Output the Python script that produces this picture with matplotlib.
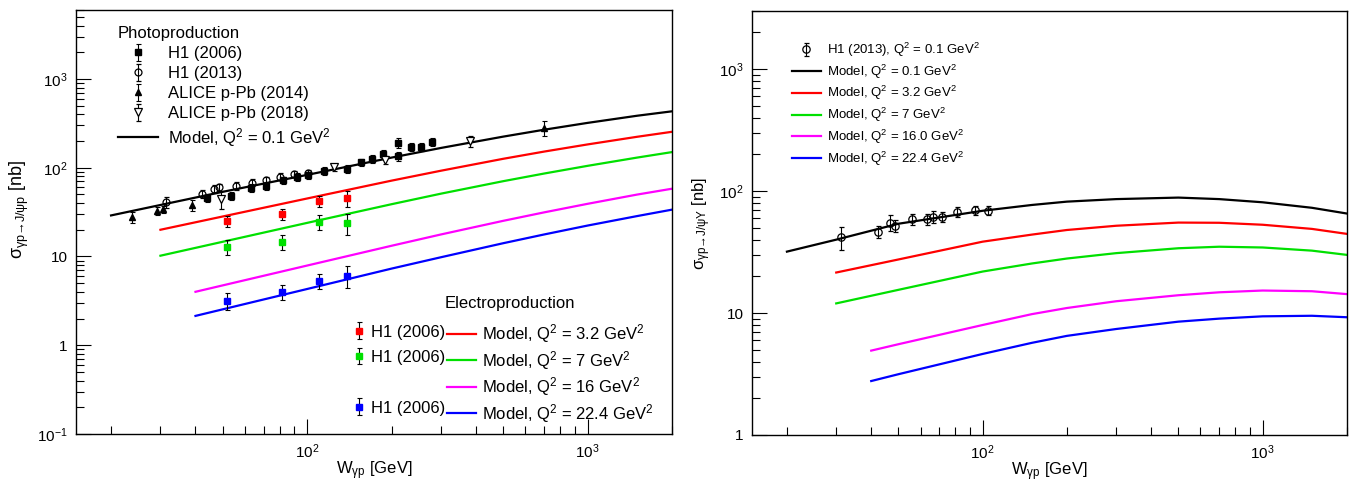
import matplotlib
matplotlib.use("Agg")
import matplotlib.pyplot as plt
from matplotlib.lines import Line2D
from matplotlib.ticker import FixedLocator, FixedFormatter, NullFormatter, LogLocator

plt.rcParams['font.family'] = ['Liberation Sans', 'DejaVu Sans']
plt.rcParams['mathtext.fontset'] = 'custom'
plt.rcParams['mathtext.rm'] = 'Liberation Sans'
plt.rcParams['mathtext.it'] = 'Liberation Sans:italic'
plt.rcParams['mathtext.bf'] = 'Liberation Sans:bold'

# -------------------------------
# Left panel: gamma p -> J/psi p
# -------------------------------
# photoproduction data
h1_2006_w = [43.8, 53.4, 62.9, 71.1, 81.8, 91.8, 101, 115, 138.6, 155.5, 170.3, 186.9, 210.5, 210.5, 233.9, 254.6, 277.8]
h1_2006_s = [45.8, 48.6, 59.8, 62.5, 72.4, 78.3, 82.5, 92.3, 97.9, 114.5, 127, 143.5, 133.8, 191, 170.6, 172, 196]
h1_2006_e = [5, 5, 6, 6, 7, 8, 8, 9, 10, 11, 13, 15, 16, 25, 17, 18, 20]

h1_2013_w = [31.3, 42.1, 46.6, 48.6, 55.6, 63.4, 71.5, 80.2, 89.9, 100.5]
h1_2013_s = [41.3, 50.8, 57.4, 60.4, 62.5, 68.1, 71.8, 79.6, 85.3, 86.9]
h1_2013_e = [6, 5, 6, 6, 6, 6, 6, 7, 7, 7]

alice14_w = [23.7, 29.2, 30.6, 39.0, 700]
alice14_s = [28, 32.7, 34.1, 37.9, 280]
alice14_e = [4, 3, 3, 5, 55]

alice18_w = [49.2, 125, 190, 380]
alice18_s = [44.6, 101, 123, 200]
alice18_e = [10, 10, 14, 30]

# electroproduction data, H1 (2006)
h1e_w = [52, 81.3, 110.2, 138.6]
h1e_s32 = [25.2, 30, 42, 45]
h1e_e32 = [3.5, 4, 6, 9]
h1e_s7 = [12.9, 14.5, 24.5, 23.9]
h1e_e7 = [2.6, 2.8, 4.5, 6.5]
h1e_s224 = [3.18, 4.02, 5.31, 6.09]
h1e_e224 = [0.7, 0.8, 1.0, 1.7]

# model curves
m01_w = [20, 50, 100, 200, 300, 500, 700, 1000, 1500, 2000]
m01_s = [29, 53.5, 83, 130, 167, 224, 268, 320, 385, 432]
m32_w = [30, 100, 200, 300, 500, 700, 1000, 1500, 2000]
m32_s = [20, 45, 71.5, 92.5, 126, 152, 183, 223, 254]
m7_w = [30, 100, 200, 300, 500, 700, 1000, 1500, 2000]
m7_s = [10.2, 23.9, 38.8, 51, 70.5, 86, 105, 130, 150]
m16_w = [40, 100, 200, 300, 500, 700, 1000, 1500, 2000]
m16_s = [4.0, 7.9, 13.2, 17.7, 25.2, 31.4, 39.2, 49.8, 58]
m224_w = [40, 100, 200, 300, 500, 700, 1000, 1500, 2000]
m224_s = [2.14, 4.3, 7.3, 9.8, 14.1, 17.7, 22.3, 28.5, 33.7]

# -------------------------------
# Right panel: gamma p -> J/psi Y
# -------------------------------
r_h1_w = [31.3, 42.2, 46.8, 48.7, 55.9, 63.4, 66.4, 71.7, 80.8, 93.8, 104.8]
r_h1_s = [41.8, 46.3, 55.2, 52.1, 58.8, 58.8, 61.8, 61.4, 67.5, 70.2, 69.2]
r_h1_e = [9, 5, 8, 6, 6, 6, 7, 6, 6, 6, 6]

r01_w = [20, 30, 50, 100, 150, 200, 300, 500, 700, 1000, 1500, 2000]
r01_s = [31.9, 40, 54, 69, 77, 82, 86, 88.5, 86, 81, 73, 65.5]
r32_w = [30, 50, 100, 150, 200, 300, 500, 700, 1000, 1500, 2000]
r32_s = [21.5, 27.5, 38.5, 44, 48, 52, 55.2, 55, 53, 49, 44.6]
r7_w = [30, 50, 100, 150, 200, 300, 500, 700, 1000, 1500, 2000]
r7_s = [12.0, 15.5, 21.9, 25.5, 28, 31, 34, 35, 34.5, 32.5, 30]
r16_w = [40, 50, 100, 150, 200, 300, 500, 700, 1000, 1500, 2000]
r16_s = [4.92, 5.55, 7.98, 9.8, 11, 12.5, 14, 14.8, 15.3, 15.1, 14.3]
r224_w = [40, 50, 100, 150, 200, 300, 500, 700, 1000, 1500, 2000]
r224_s = [2.77, 3.15, 4.62, 5.7, 6.5, 7.4, 8.5, 9.0, 9.4, 9.5, 9.24]

# tick labels
x_ticks = [100, 1000]
x_labels = ['10$^{2}$', '10$^{3}$']
yl_ticks = [0.1, 1, 10, 100, 1000]
yl_labels = ['10$^{-1}$', '1', '10', '10$^{2}$', '10$^{3}$']
yr_ticks = [1, 10, 100, 1000]
yr_labels = ['1', '10', '10$^{2}$', '10$^{3}$']

RED = '#ff0000'
GREEN = '#00e000'
MAGENTA = '#ff00ff'
BLUE = '#0000ff'

fig = plt.figure(figsize=(13.5, 4.83), dpi=100)
ax1 = fig.add_axes([0.0563, 0.1015, 0.4415, 0.878])
ax2 = fig.add_axes([0.557, 0.0994, 0.4407, 0.8778])

eb = dict(ecolor='black', elinewidth=0.8, capsize=1.8, capthick=0.8, linestyle='none')

# ---- left panel
l01, = ax1.plot(m01_w, m01_s, color='black', lw=1.6)
l32, = ax1.plot(m32_w, m32_s, color=RED, lw=1.6)
l7, = ax1.plot(m7_w, m7_s, color=GREEN, lw=1.6)
l16, = ax1.plot(m16_w, m16_s, color=MAGENTA, lw=1.6)
l224, = ax1.plot(m224_w, m224_s, color=BLUE, lw=1.6)

e106 = ax1.errorbar(h1_2006_w, h1_2006_s, yerr=h1_2006_e, marker='s', ms=4.3, color='black', **eb)
e113 = ax1.errorbar(h1_2013_w, h1_2013_s, yerr=h1_2013_e, marker='o', ms=5, mfc='none', mec='black', mew=0.9, **eb)
e14 = ax1.errorbar(alice14_w, alice14_s, yerr=alice14_e, marker='^', ms=5, color='black', **eb)
e18 = ax1.errorbar(alice18_w, alice18_s, yerr=alice18_e, marker='v', ms=6, mfc='white', mec='black', mew=0.9, **eb)

er = ax1.errorbar(h1e_w, h1e_s32, yerr=h1e_e32, marker='s', ms=4.6, mfc=RED, mec=RED, **eb)
eg = ax1.errorbar(h1e_w, h1e_s7, yerr=h1e_e7, marker='s', ms=4.6, mfc=GREEN, mec=GREEN, **eb)
ebl = ax1.errorbar(h1e_w, h1e_s224, yerr=h1e_e224, marker='s', ms=4.6, mfc=BLUE, mec=BLUE, **eb)

ax1.set_xlim(15, 2000)
ax1.set_ylim(0.1, 6000)

leg1 = ax1.legend([e106, e113, e14, e18, l01],
                  ['H1 (2006)', 'H1 (2013)', 'ALICE p-Pb (2014)', 'ALICE p-Pb (2018)',
                   'Model, Q$^{2}$ = 0.1 GeV$^{2}$'],
                  loc='upper left', bbox_to_anchor=(0.07, 0.962), frameon=False,
                  fontsize=12, title='Photoproduction', title_fontsize=12, alignment='left',
                  handlelength=2.4, handletextpad=0.6, labelspacing=0.3,
                  borderpad=0, borderaxespad=0)
ax1.add_artist(leg1)

ax1.text(0.619, 0.307, 'Electroproduction', transform=ax1.transAxes, fontsize=12,
         ha='left', va='center')

blank = Line2D([], [], linestyle='none')
leg2 = ax1.legend([er, eg, blank, ebl], ['H1 (2006)', 'H1 (2006)', ' ', 'H1 (2006)'],
                  loc='upper left', bbox_to_anchor=(0.463, 0.258), frameon=False,
                  fontsize=12, handlelength=0.8, handletextpad=0.34, labelspacing=0.62,
                  borderpad=0, borderaxespad=0)
ax1.add_artist(leg2)
leg3 = ax1.legend([l32, l7, l16, l224],
                  ['Model, Q$^{2}$ = 3.2 GeV$^{2}$', 'Model, Q$^{2}$ = 7 GeV$^{2}$',
                   'Model, Q$^{2}$ = 16 GeV$^{2}$', 'Model, Q$^{2}$ = 22.4 GeV$^{2}$'],
                  loc='upper left', bbox_to_anchor=(0.622, 0.263), frameon=False,
                  fontsize=12, handlelength=1.75, handletextpad=0.36, labelspacing=0.21,
                  borderpad=0, borderaxespad=0)

ax1.set_ylabel('σ$_{\\mathregular{γp → J/ψp}}$ [nb]', fontsize=13)
ax1.yaxis.set_label_coords(-0.075, 0.53)

# ---- right panel
k01, = ax2.plot(r01_w, r01_s, color='black', lw=1.6)
k32, = ax2.plot(r32_w, r32_s, color=RED, lw=1.6)
k7, = ax2.plot(r7_w, r7_s, color=GREEN, lw=1.6)
k16, = ax2.plot(r16_w, r16_s, color=MAGENTA, lw=1.6)
k224, = ax2.plot(r224_w, r224_s, color=BLUE, lw=1.6)
rh1 = ax2.errorbar(r_h1_w, r_h1_s, yerr=r_h1_e, marker='o', ms=5.3, mfc='none', mec='black', mew=0.9, **eb)

ax2.set_xlim(15, 2000)
ax2.set_ylim(1, 3000)

ax2.legend([rh1, k01, k32, k7, k16, k224],
           ['H1 (2013), Q$^{2}$ = 0.1 GeV$^{2}$', 'Model, Q$^{2}$ = 0.1 GeV$^{2}$',
            'Model, Q$^{2}$ = 3.2 GeV$^{2}$', 'Model, Q$^{2}$ = 7 GeV$^{2}$',
            'Model, Q$^{2}$ = 16.0 GeV$^{2}$', 'Model, Q$^{2}$ = 22.4 GeV$^{2}$'],
           loc='upper left', bbox_to_anchor=(0.067, 0.93), frameon=False,
           fontsize=9.5, handlelength=2.2, handletextpad=0.5, labelspacing=0.27,
           borderpad=0, borderaxespad=0)

ax2.set_ylabel('σ$_{\\mathregular{γp → J/ψY}}$ [nb]', fontsize=12)
ax2.yaxis.set_label_coords(-0.065, 0.5)

# ---- common axis styling
for ax, yt, yl in ((ax1, yl_ticks, yl_labels), (ax2, yr_ticks, yr_labels)):
    ax.set_xscale('log')
    ax.set_yscale('log')
    ax.xaxis.set_major_locator(FixedLocator(x_ticks))
    ax.xaxis.set_major_formatter(FixedFormatter(x_labels))
    ax.xaxis.set_minor_locator(LogLocator(base=10, subs=range(2, 10), numticks=20))
    ax.xaxis.set_minor_formatter(NullFormatter())
    ax.yaxis.set_major_locator(FixedLocator(yt))
    ax.yaxis.set_major_formatter(FixedFormatter(yl))
    ax.yaxis.set_minor_locator(LogLocator(base=10, subs=range(2, 10), numticks=20))
    ax.yaxis.set_minor_formatter(NullFormatter())
    ax.tick_params(which='both', direction='in', top=False, right=False, width=0.8, labelsize=11)
    ax.tick_params(which='major', length=11, pad=6)
    ax.tick_params(which='minor', length=5.5)
    for sp in ax.spines.values():
        sp.set_linewidth(1.0)
    ax.set_xlabel('W$_{\\mathregular{γp}}$ [GeV]', fontsize=12)
    ax.xaxis.set_label_coords(0.5, -0.06)

fig.savefig('out.png', dpi=100)
